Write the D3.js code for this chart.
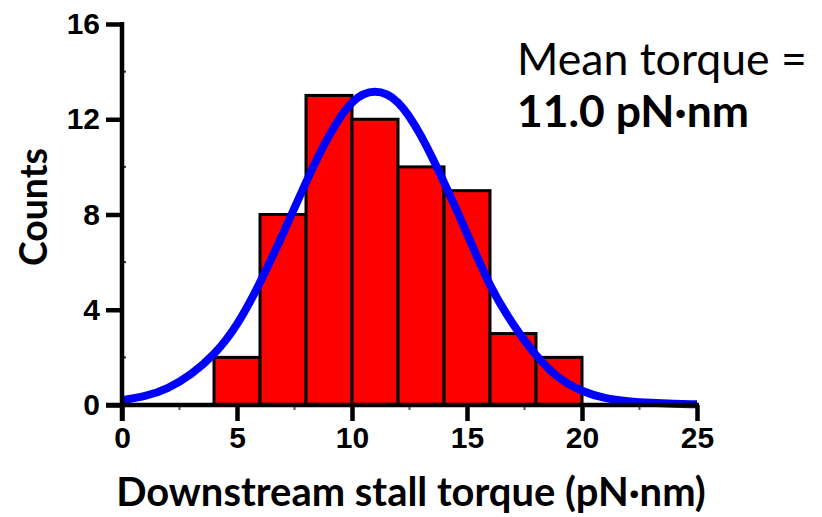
<!DOCTYPE html>
<html>
<head>
<meta charset="utf-8">
<script src="https://cdn.jsdelivr.net/npm/d3@7"></script>
<style>
  html, body { margin: 0; padding: 0; background: #fff; }
  svg { display: block; }
</style>
</head>
<body>
<svg id="chart" width="822" height="517"></svg>
<script>
// Histogram bins (pN·nm) and counts
const binStarts = [4, 6, 8, 10, 12, 14, 16, 18];
const binWidth = 2;
const counts = [2, 8, 13, 12, 10, 9, 3, 2];

// Fitted distribution curve, sampled at each pN·nm
const fitX = [0, 1, 2, 3, 4, 5, 6, 7, 8, 9, 10, 11, 12, 13, 14, 15, 16, 17, 18, 19, 20, 21, 22, 23, 24, 25];
const fitY = [0.2, 0.38, 0.72, 1.3, 2.15, 3.4, 5.15, 7.2, 9.35, 11.3, 12.7, 13.15, 12.7, 11.3, 9.35, 7.2, 5.05, 3.4, 2.1, 1.15, 0.6, 0.3, 0.16, 0.09, 0.05, 0.03];

// Axis ticks
const xTicks = [0, 5, 10, 15, 20, 25];
const xMinorTicks = [2.5, 7.5, 12.5, 17.5, 22.5];
const yTicks = [0, 4, 8, 12, 16];
const yMinorTicks = [2, 6, 10, 14];

const xTitle = "Downstream stall torque (pN·nm)";
const yTitle = "Counts";
const noteLine1 = "Mean torque =";
const noteLine2 = "11.0 pN·nm";

const svg = d3.select("#chart");
const x = d3.scaleLinear().domain([0, 25]).range([122, 697]);
const y = d3.scaleLinear().domain([0, 16]).range([405, 24]);

// Bars
svg.append("g").selectAll("rect")
  .data(binStarts.map((s, i) => ({ s, c: counts[i] })))
  .join("rect")
  .attr("x", d => x(d.s))
  .attr("y", d => y(d.c))
  .attr("width", d => x(d.s + binWidth) - x(d.s))
  .attr("height", d => y(0) - y(d.c))
  .attr("fill", "#ff0000")
  .attr("stroke", "#000")
  .attr("stroke-width", 3);

// Fit curve
const line = d3.line()
  .x((d, i) => x(fitX[i]))
  .y(d => y(d))
  .curve(d3.curveNatural);
svg.append("path")
  .datum(fitY)
  .attr("d", line)
  .attr("fill", "none")
  .attr("stroke", "#0000ff")
  .attr("stroke-width", 8)
  .attr("stroke-linejoin", "round");

// Axes
const tickFont = "'Liberation Sans', Arial, sans-serif";
const xAxis = svg.append("g")
  .attr("transform", `translate(0,${y(0)})`)
  .call(d3.axisBottom(x).tickValues(xTicks).tickSize(16).tickPadding(6).tickFormat(d3.format("d")));
const yAxis = svg.append("g")
  .attr("transform", `translate(${x(0)},0)`)
  .call(d3.axisLeft(y).tickValues(yTicks).tickSize(16).tickPadding(6).tickFormat(d3.format("d")));

[xAxis, yAxis].forEach(g => {
  g.select(".domain").remove();
  g.selectAll(".tick line").attr("stroke", "#000").attr("stroke-width", 4.5);
  g.selectAll(".tick text")
    .attr("fill", "#000")
    .style("font-family", tickFont)
    .style("font-weight", "bold")
    .style("font-size", "30px");
});
yAxis.selectAll(".tick text").attr("dy", "0.32em");
xAxis.selectAll(".tick text").attr("dy", "0.71em");

// Minor ticks
svg.append("g").selectAll("line")
  .data(xMinorTicks).join("line")
  .attr("x1", d => x(d)).attr("x2", d => x(d))
  .attr("y1", y(0)).attr("y2", y(0) + 5)
  .attr("stroke", "#555").attr("stroke-width", 2);
svg.append("g").selectAll("line")
  .data(yMinorTicks).join("line")
  .attr("x1", x(0)).attr("x2", x(0) + 4)
  .attr("y1", d => y(d)).attr("y2", d => y(d))
  .attr("stroke", "#333").attr("stroke-width", 2);

// Axis lines
svg.append("line")
  .attr("x1", x(0) - 16).attr("x2", x(25) + 2)
  .attr("y1", y(0)).attr("y2", y(0))
  .attr("stroke", "#000").attr("stroke-width", 4.5);
svg.append("line")
  .attr("x1", x(0)).attr("x2", x(0))
  .attr("y1", y(16) - 2).attr("y2", y(0) + 16)
  .attr("stroke", "#000").attr("stroke-width", 4.5);

// Text helper: scale a label's font size so it spans the given width
function fitWidth(sel, width) {
  const w = sel.node().getComputedTextLength();
  const fs = parseFloat(sel.style("font-size"));
  sel.style("font-size", (fs * width / w) + "px");
  return sel;
}

const titleFont = "Lato, 'Open Sans', sans-serif";

const xt = svg.append("text")
  .attr("x", 411).attr("y", 506)
  .attr("text-anchor", "middle")
  .style("font-family", titleFont).style("font-weight", "bold").style("font-size", "40px")
  .text(xTitle);
fitWidth(xt, 590);

const yt = svg.append("text")
  .attr("transform", "translate(47,207) rotate(-90)")
  .attr("text-anchor", "middle")
  .style("font-family", titleFont).style("font-weight", "bold").style("font-size", "40px")
  .text(yTitle);
fitWidth(yt, 118);

const n1 = svg.append("text")
  .attr("x", 517).attr("y", 75)
  .style("font-family", titleFont).style("font-size", "36px")
  .text(noteLine1);
fitWidth(n1, 290);

const n2 = svg.append("text")
  .attr("x", 517).attr("y", 127)
  .style("font-family", titleFont).style("font-weight", "bold").style("font-size", "36px")
  .text(noteLine2);
fitWidth(n2, 232);
</script>
</body>
</html>
